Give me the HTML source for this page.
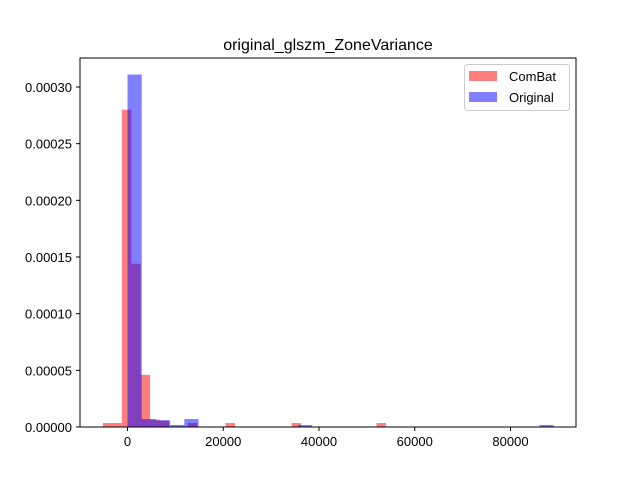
<!DOCTYPE html>
<html><head><meta charset="utf-8"><style>body{margin:0;background:#fff}svg{display:block;font-family:"Liberation Sans","DejaVu Sans",sans-serif}</style></head>
<body>
<svg id="chart" width="640" height="480">
<text x="328" y="50" font-size="16" text-anchor="middle">original_glszm_ZoneVariance</text>
<g id="bars"></g>
<rect x="80" y="58" width="496" height="369" fill="none" stroke="#000" stroke-width="1"/>
<g id="axes"></g>
<g>
<rect x="464.5" y="64.5" width="105" height="46" rx="3" fill="#fff" fill-opacity="0.8" stroke="#ccc"/>
<rect x="469" y="71" width="28" height="10" fill="#ff0000" fill-opacity="0.5"/>
<text x="509" y="81" font-size="13">ComBat</text>
<rect x="469" y="92" width="28" height="10" fill="#0000ff" fill-opacity="0.5"/>
<text x="509" y="102" font-size="13">Original</text>
</g>
</svg>
<script>
const xTicks=[0,20000,40000,60000,80000];
const yTicks=[0,0.00005,0.0001,0.00015,0.0002,0.00025,0.0003];
const yTickLabels=["0.00000","0.00005","0.00010","0.00015","0.00020","0.00025","0.00030"];
const combatStart=-5120, combatWidth=1970;
const combatValues=[0.0000035,0.0000035,0.00028,0.000144,0.000046,0.0000065,0.0000055,0,0,0.0000035,0,0,0,0.0000035,0,0,0,0,0,0,0.0000035,0,0,0,0,0,0,0,0,0.0000035];
const origStart=0, origWidth=2967;
const origValues=[0.000311,0.000007,0.000006,0.0000018,0.000007,0,0,0,0,0,0,0,0.0000018,0,0,0,0,0,0,0,0,0,0,0,0,0,0,0,0,0.0000018];
const X=v=>127.5+v*0.0047875;
const Y=v=>427-v*340/0.0003;
const ns="http://www.w3.org/2000/svg";
const bars=document.getElementById('bars'),axes=document.getElementById('axes');
function drawSeries(start,w,vals,color,name){
 vals.forEach((v,i)=>{ if(v<=0)return;
  const r=document.createElementNS(ns,'rect');
  const x0=X(start+i*w),x1=X(start+(i+1)*w);
  r.setAttribute('x',x0);r.setAttribute('width',x1-x0);
  r.setAttribute('y',Y(v));r.setAttribute('height',427-Y(v));
  r.setAttribute('fill',color);r.setAttribute('fill-opacity','0.5');
  
  
  bars.appendChild(r);});
}
drawSeries(combatStart,combatWidth,combatValues,'#ff0000','combat');
drawSeries(origStart,origWidth,origValues,'#0000ff','original');
xTicks.forEach(t=>{
 const l=document.createElementNS(ns,'line');l.setAttribute('x1',X(t));l.setAttribute('x2',X(t));l.setAttribute('y1',427);l.setAttribute('y2',431);l.setAttribute('stroke','#000');
 
 
 axes.appendChild(l);
 const tx=document.createElementNS(ns,'text');tx.setAttribute('x',X(t));tx.setAttribute('y',446);tx.setAttribute('font-size','13');tx.setAttribute('text-anchor','middle');tx.textContent=t;
 
 
 axes.appendChild(tx);});
yTicks.forEach((t,i)=>{
 const l=document.createElementNS(ns,'line');l.setAttribute('x1',76);l.setAttribute('x2',80);l.setAttribute('y1',Y(t));l.setAttribute('y2',Y(t));l.setAttribute('stroke','#000');
 
 
 axes.appendChild(l);
 const tx=document.createElementNS(ns,'text');tx.setAttribute('x',72);tx.setAttribute('y',Y(t)+5);tx.setAttribute('font-size','13');tx.setAttribute('text-anchor','end');tx.textContent=yTickLabels[i];
 
 
 axes.appendChild(tx);});
</script>
</body></html>
